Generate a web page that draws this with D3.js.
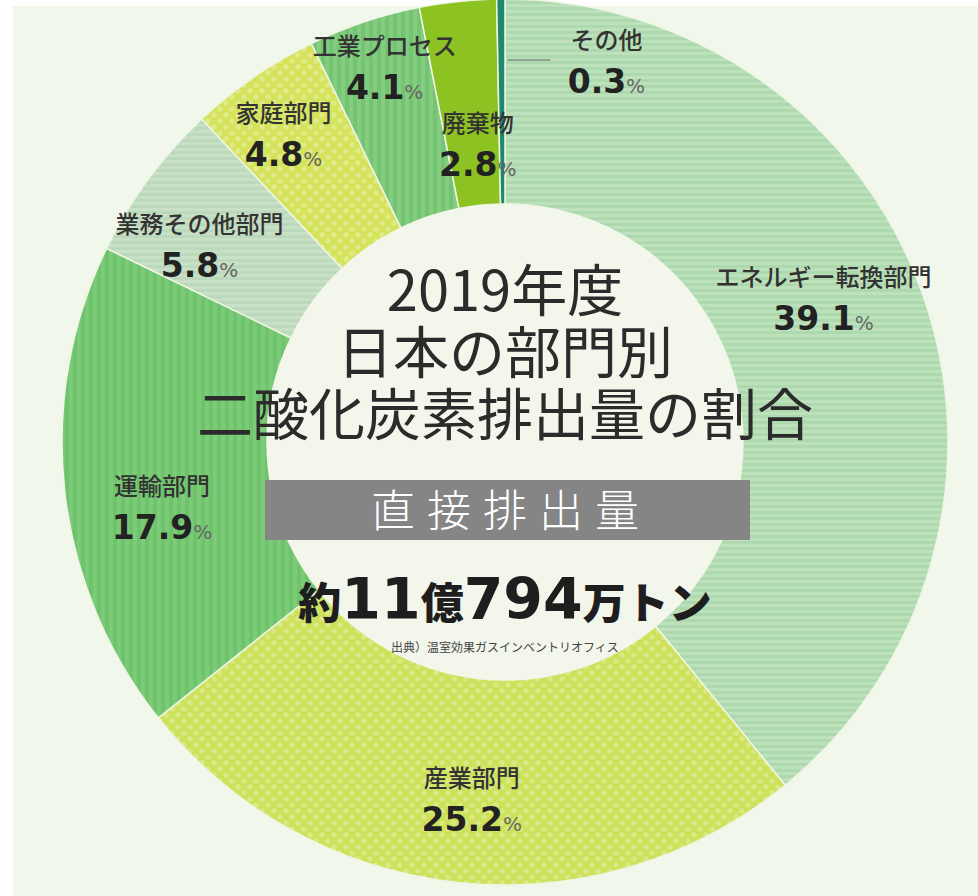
<!DOCTYPE html>
<html>
<head>
<meta charset="utf-8">
<script src="https://cdn.jsdelivr.net/npm/d3@7"></script>
<style>
  body { margin: 0; background: #ffffff; }
  svg { display: block; }
</style>
</head>
<body>
<div id="chart"></div>
<script>
// sectors, clockwise from 12 o'clock
var sectors = ["エネルギー転換部門", "産業部門", "運輸部門", "業務その他部門", "家庭部門", "工業プロセス", "廃棄物", "その他"];
var shares = [39.1, 25.2, 17.9, 5.8, 4.8, 4.1, 2.8, 0.3];
var titleLines = ["2019年度", "日本の部門別", "二酸化炭素排出量の割合"];
var bandText = "直接排出量";
var totalParts = [["約", false], ["11", true], ["億", false], ["794", true], ["万トン", false]];
var sourceText = "出典）温室効果ガスインベントリオフィス";

var W = 978, H = 896;
var cx = 505, cy = 442;
var outerR = 443, innerR = 238;

// label placement: radius and angle nudge (deg) per slice
var labelR = [350, 358, 349, 364, 380, 395, 300, 382];
var labelNudge = [-4.9, -0.8, -4.3, -3.4, -1.1, 0.8, 0.9, 0];

var svg = d3.select("#chart").append("svg")
    .attr("width", W)
    .attr("height", H);

var defs = svg.append("defs");

function stripes(id, c1, c2, size, vertical) {
    var p = defs.append("pattern")
        .attr("id", id)
        .attr("patternUnits", "userSpaceOnUse")
        .attr("width", size)
        .attr("height", size);
    p.append("rect").attr("width", size).attr("height", size).attr("fill", c1);
    if (vertical) {
        p.append("rect").attr("x", size / 2).attr("width", size / 2).attr("height", size).attr("fill", c2);
    } else {
        p.append("rect").attr("y", size / 2).attr("width", size).attr("height", size / 2).attr("fill", c2);
    }
}

function dots(id, c1, c2, size) {
    var p = defs.append("pattern")
        .attr("id", id)
        .attr("patternUnits", "userSpaceOnUse")
        .attr("width", size)
        .attr("height", size);
    p.append("rect").attr("width", size).attr("height", size).attr("fill", c1);
    p.append("circle").attr("cx", size / 4).attr("cy", size / 4).attr("r", size / 4.5).attr("fill", c2);
    p.append("circle").attr("cx", size * 3 / 4).attr("cy", size * 3 / 4).attr("r", size / 4.5).attr("fill", c2);
}

stripes("pEnergy", "#bde2bb", "#aed9ae", 6, false);
dots("pIndustry", "#cde25a", "#d9e986", 12);
stripes("pTransport", "#6dc46c", "#7dcb78", 8, true);
stripes("pBusiness", "#c8e0c6", "#bcd9bd", 6, false);
dots("pHome", "#d4e35a", "#e0ea88", 12);
stripes("pProcess", "#73c473", "#86cc80", 8, true);

var fills = ["url(#pEnergy)", "url(#pIndustry)", "url(#pTransport)", "url(#pBusiness)",
    "url(#pHome)", "url(#pProcess)", "#8cc322", "#1d8b6b"];

// background
svg.append("rect").attr("width", W).attr("height", H).attr("fill", "#ffffff");
svg.append("rect").attr("x", 13).attr("y", 6).attr("width", W - 13).attr("height", H - 6).attr("fill", "#f1f7ea");

var g = svg.append("g").attr("transform", "translate(" + cx + "," + cy + ")");

var pie = d3.pie().sort(null).value(function(d) { return d; });
var arcs = pie(shares);
var arc = d3.arc().innerRadius(innerR).outerRadius(outerR);

g.selectAll("path.slice")
    .data(arcs)
    .enter().append("path")
    .attr("class", "slice")
    .attr("d", arc)
    .attr("fill", function(d, i) { return fills[i]; })
    .attr("stroke", "#eef6e6")
    .attr("stroke-width", 1.5);

g.append("circle").attr("r", innerR).attr("fill", "#f3f6ea");

// slice labels
var labelG = g.selectAll("g.lab")
    .data(arcs)
    .enter().append("g")
    .attr("class", "lab")
    .attr("transform", function(d, i) {
        var a = (d.startAngle + d.endAngle) / 2 + labelNudge[i] * Math.PI / 180;
        var x = Math.sin(a) * labelR[i], y = -Math.cos(a) * labelR[i];
        if (i == 7) { x += 105; }
        return "translate(" + x + "," + y + ")";
    });

labelG.append("text")
    .attr("text-anchor", "middle")
    .attr("y", -11)
    .attr("font-family", "'Noto Sans CJK JP', sans-serif")
    .attr("font-weight", 500)
    .attr("font-size", 24)
    .attr("fill", "#333")
    .text(function(d, i) { return sectors[i]; });

var pct = labelG.append("text")
    .attr("text-anchor", "middle")
    .attr("y", 33)
    .attr("font-family", "'DejaVu Sans', sans-serif")
    .attr("font-weight", "bold")
    .attr("font-size", 33)
    .attr("fill", "#222");
pct.append("tspan").text(function(d) { return d.data.toFixed(1); });
pct.append("tspan")
    .attr("font-size", 20)
    .attr("font-weight", "normal")
    .attr("fill", "#666")
    .text("%");

// leader for the thin slice
var small = arcs[7];
var sa = (small.startAngle + small.endAngle) / 2;
var lx = Math.sin(sa) * labelR[7], ly = -Math.cos(sa) * labelR[7];
g.append("line")
    .attr("x1", lx + 6).attr("y1", ly)
    .attr("x2", lx + 49).attr("y2", ly)
    .attr("stroke", "#666")
    .attr("stroke-width", 1.2);

// centre title
g.selectAll("text.title")
    .data(titleLines)
    .enter().append("text")
    .attr("class", "title")
    .attr("text-anchor", "middle")
    .attr("x", 0)
    .attr("y", function(d, i) { return -131 + i * 62; })
    .attr("font-family", "'Noto Sans CJK JP', sans-serif")
    .attr("font-weight", 400)
    .attr("font-size", 56)
    .attr("fill", "#2b2b2b")
    .text(function(d) { return d; });

svg.append("rect")
    .attr("x", 265).attr("y", 480)
    .attr("width", 485).attr("height", 60)
    .attr("fill", "#858585");

svg.append("text")
    .attr("x", cx + 6).attr("y", 527)
    .attr("text-anchor", "middle")
    .attr("font-family", "'Noto Sans CJK JP', sans-serif")
    .attr("font-weight", 300)
    .attr("font-size", 44)
    .attr("letter-spacing", 12)
    .attr("fill", "#ffffff")
    .text(bandText);

var total = svg.append("text")
    .attr("x", cx).attr("y", 619)
    .attr("text-anchor", "middle")
    .attr("fill", "#1e1e1e");
total.selectAll("tspan")
    .data(totalParts)
    .enter().append("tspan")
    .attr("font-family", function(d) { return d[1] ? "'DejaVu Sans', sans-serif" : "'Noto Sans CJK JP', sans-serif"; })
    .attr("font-weight", function(d) { return d[1] ? "bold" : 900; })
    .attr("font-size", function(d) { return d[1] ? 57 : 43; })
    .text(function(d) { return d[0]; });

svg.append("text")
    .attr("x", cx).attr("y", 652)
    .attr("text-anchor", "middle")
    .attr("font-family", "'Noto Sans CJK JP', sans-serif")
    .attr("font-size", 12)
    .attr("fill", "#444")
    .text(sourceText);
</script>
</body>
</html>
